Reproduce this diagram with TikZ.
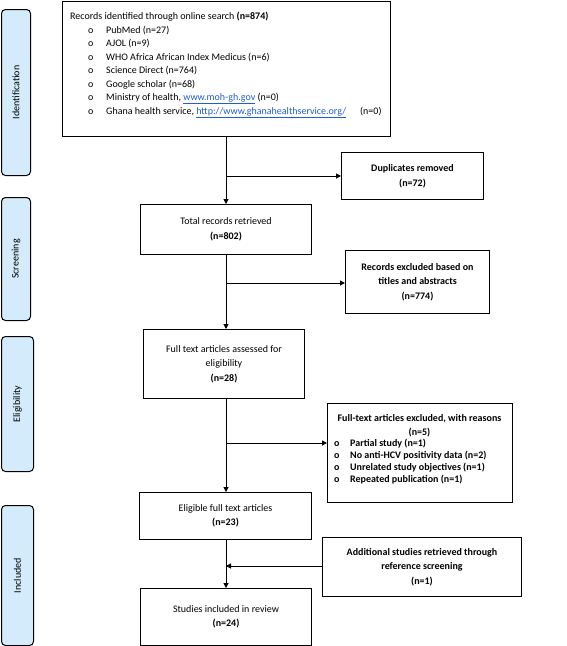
\documentclass[tikz,border=0pt]{standalone}
\usepackage{fontspec}
\setmainfont{Carlito}
\usetikzlibrary{arrows.meta}
\definecolor{sidefill}{HTML}{D3EBFA}
\definecolor{linkblue}{HTML}{1F5FC8}
\tikzset{
  box/.style={draw=black, line width=1pt, anchor=north west, inner sep=0pt, align=center, font=\fontsize{10}{14.5}\selectfont},
  bbox/.style={box, font=\bfseries\fontsize{10}{14.5}\selectfont},
  side/.style={draw=black, line width=1pt, fill=sidefill, rounded corners=4pt, anchor=north west, inner sep=0pt},
  sidetext/.style={rotate=90, font=\fontsize{10}{12}\selectfont},
  flow/.style={line width=1pt, -{Triangle[length=5pt,width=5pt]}},
  bul/.style={anchor=base west, inner sep=0pt, font=\fontsize{10}{12}\selectfont},
  bbul/.style={bul, font=\bfseries\fontsize{10}{12}\selectfont}
}
\newcommand{\lnk}[1]{\textcolor{linkblue}{\underline{#1}}}
\begin{document}
\begin{tikzpicture}[x=1pt,y=-1pt]
\useasboundingbox (0,0) rectangle (567,646);
% side labels
\node[side, minimum width=29, minimum height=166] (sid) at (1,9) {};
\node[sidetext] at (sid.center) {Identification};
\node[side, minimum width=29, minimum height=123] (sscr) at (1,197) {};
\node[sidetext] at (sscr.center) {Screening};
\node[side, minimum width=32, minimum height=135] (selig) at (1,336) {};
\node[sidetext] at (selig.center) {Eligibility};
\node[side, minimum width=32, minimum height=140] (sinc) at (1,505) {};
\node[sidetext] at (sinc.center) {Included};
% identification box
\node[box, minimum width=328, minimum height=135] (idb) at (62,1) {};
\node[bul] (t0) at (70,19.5) {Records identified through online search \textbf{(n=874)}};
\foreach \i/\txt in {1/{PubMed (n=27)},2/{AJOL (n=9)},3/{WHO Africa African Index Medicus (n=6)},4/{Science Direct (n=764)},5/{Google scholar (n=68)},6/{Ministry of health, \lnk{www.moh-gh.gov} (n=0)},7/{Ghana health service, \lnk{http://www.ghanahealthservice.org/}\hspace{1.4em}(n=0)}}{
  \node[bul] at (88,{19.5+13.5*\i}) {o};
  \node[bul] at (106,{19.5+13.5*\i}) {\txt};
}
% other boxes
\node[bbox, minimum width=142, minimum height=47] (dup) at (341,152) {Duplicates removed\\(n=72)};
\node[box, minimum width=171, minimum height=50] (tot) at (140,204) {Total records retrieved\\\textbf{(n=802)}};
\node[bbox, minimum width=144, minimum height=63] (rex) at (345,250) {Records excluded based on\\titles and abstracts\\(n=774)};
\node[box, minimum width=161, minimum height=69] (ft) at (143,329) {Full text articles assessed for\\eligibility\\\textbf{(n=28)}};
\node[box, minimum width=185, minimum height=99] (fex) at (327,403) {};
\node[anchor=base, inner sep=0pt, font=\bfseries\fontsize{10}{12}\selectfont] at (419.5,421) {Full-text articles excluded, with reasons};
\node[anchor=base, inner sep=0pt, font=\bfseries\fontsize{10}{12}\selectfont] at (419.5,435) {(n=5)};
\foreach \i/\txt in {1/{Partial study (n=1)},2/{No anti-HCV positivity data (n=2)},3/{Unrelated study objectives (n=1)},4/{Repeated publication (n=1)}}{
  \node[bbul] at (334,{434+12*\i}) {o};
  \node[bbul] at (350,{434+12*\i}) {\txt};
}
\node[box, minimum width=172, minimum height=47] (elig) at (139,492) {Eligible full text articles\\\textbf{(n=23)}};
\node[bbox, minimum width=199, minimum height=59] (add) at (322,537) {Additional studies retrieved through\\reference screening\\(n=1)};
\node[box, minimum width=171, minimum height=57] (inc) at (140,588) {Studies included in review\\\textbf{(n=24)}};
% connectors
\coordinate (j1) at (226,176);
\coordinate (j2) at (226,283);
\coordinate (j3) at (226,443);
\coordinate (j4) at (226,566);
\draw[flow] (idb.south -| j1) -- (tot.north -| j1);
\draw[flow] (j1) -- (j1 -| dup.west);
\draw[flow] (tot.south -| j2) -- (ft.north -| j2);
\draw[flow] (j2) -- (j2 -| rex.west);
\draw[flow] (ft.south -| j3) -- (elig.north -| j3);
\draw[flow] (j3) -- (j3 -| fex.west);
\draw[flow] (elig.south -| j4) -- (inc.north -| j4);
\draw[flow] (j4 -| add.west) -- (j4);
\end{tikzpicture}
\end{document}
